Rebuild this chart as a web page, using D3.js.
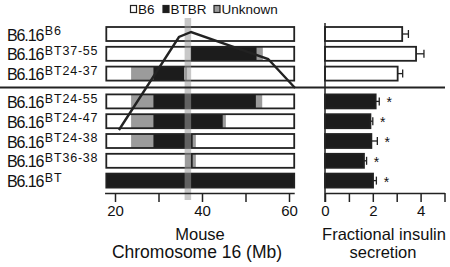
<!DOCTYPE html>
<html><head><meta charset="utf-8">
<script src="https://cdn.jsdelivr.net/npm/d3@7"></script>
<style>
html,body{margin:0;padding:0;background:#fff;}
svg{display:block;font-family:"Liberation Sans",Arial,sans-serif;}
</style></head>
<body>
<svg id="c" width="450" height="267"></svg>
<script>
// ---- data ----
const strains = ["B6","BT37-55","BT24-37","BT24-55","BT24-47","BT24-38","BT36-38","BT"];
const segB6      = [[18,61.2,"W"]];
const segBT3755  = [[18,37.4,"W"],[37.4,52.6,"K"],[52.6,54.0,"G"],[54.0,61.2,"W"]];
const segBT2437  = [[18,23.7,"W"],[23.7,28.8,"G"],[28.8,35.9,"K"],[35.9,36.6,"G"],[36.6,61.2,"W"]];
const segBT2455  = [[18,23.7,"W"],[23.7,28.8,"G"],[28.8,52.4,"K"],[52.4,53.9,"G"],[53.9,61.2,"W"]];
const segBT2447  = [[18,23.7,"W"],[23.7,28.8,"G"],[28.8,44.8,"K"],[44.8,45.5,"G"],[45.5,61.2,"W"]];
const segBT2438  = [[18,23.7,"W"],[23.7,28.8,"G"],[28.8,37.9,"K"],[37.9,38.6,"G"],[38.6,61.2,"W"]];
const segBT3638  = [[18,36.1,"W"],[36.1,37.4,"G"],[37.4,37.9,"K"],[37.9,38.6,"G"],[38.6,61.2,"W"]];
const segBT      = [[18,61.2,"K"]];
const segments = [segB6,segBT3755,segBT2437,segBT2455,segBT2447,segBT2438,segBT3638,segBT];
const insulinMean = [3.23,3.81,3.04,2.12,1.90,1.94,1.63,2.01];
const insulinErr  = [0.26,0.33,0.21,0.15,0.10,0.25,0.11,0.14];
const significant = [false,false,false,true,true,true,true,true];
const lodPos = [20.9,34.7,37.5,55.2,61.4];
const lodVal = [0,9.3,9.8,7.1,4.2];
const peakRegion = [36.0,37.5];
const chrTicks = [20,30,40,50,60];
const chrTickLabels = ["20","","40","","60"];
const insTicks = [0,1,2,3,4,5];
const insTickLabels = ["0","","2","","4",""];
const legendItems = [["B6","W"],["BTBR","K"],["Unknown","G"]];

// ---- drawing ----
const svg = d3.select("#c");
const fillOf = {W:"#ffffff",K:"#1c1c1c",G:"#9b9b9b"};
const dark = "#222";
const x = d3.scaleLinear().domain([20,60]).range([115,289]);
const xi = d3.scaleLinear().domain([0,5]).range([325,444.5]);
const lodY = d3.scaleLinear().domain([0,10]).range([130,30]);
const barH = 14;
const yTop = i => 27 + i*19.8 + (i>=3 ? 8 : 0);

// legend
const lg = svg.append("g");
legendItems.forEach(([name,t],k)=>{
  const pos = [130,162.5,213.5][k];
  lg.append("rect").attr("x",pos+0.5).attr("y",5.5).attr("width",6).attr("height",7)
    .attr("fill",fillOf[t]).attr("stroke",dark).attr("stroke-width",1.2);
  lg.append("text").attr("x",pos+8).attr("y",14).attr("font-size",13.5).attr("fill","#111").text(name);
});

// row labels
strains.forEach((s,i)=>{
  const base = yTop(i)+barH-0.5;
  const t = svg.append("text").attr("x",7).attr("y",base).attr("fill","#111");
  t.append("tspan").attr("font-size",16).attr("letter-spacing",-1.1).text("B6.16");
  t.append("tspan").attr("font-size",12.5).attr("dx",1.5).attr("dy",-5.3).attr("letter-spacing",0.8).text(s);
});

// chromosome bars
strains.forEach((s,i)=>{
  const g = svg.append("g");
  segments[i].forEach(([a,b,t])=>{
    g.append("rect").attr("x",x(a)).attr("y",yTop(i)).attr("width",x(b)-x(a)).attr("height",barH)
      .attr("fill",fillOf[t]);
  });
  g.append("rect").attr("x",x(segments[i][0][0])).attr("y",yTop(i))
    .attr("width",x(segments[i][segments[i].length-1][1])-x(segments[i][0][0])).attr("height",barH)
    .attr("fill","none").attr("stroke",dark).attr("stroke-width",1.8);
});

// highlight band
svg.append("rect").attr("x",x(peakRegion[0])).attr("y",18)
  .attr("width",x(peakRegion[1])-x(peakRegion[0])).attr("height",182)
  .attr("fill","rgb(155,155,155)").attr("opacity",0.55);

// LOD line
svg.append("path").datum(lodPos.map((p,k)=>[p,lodVal[k]]))
  .attr("d",d3.line().x(d=>x(d[0])).y(d=>lodY(d[1])))
  .attr("fill","none").attr("stroke",dark).attr("stroke-width",2.4).attr("stroke-linejoin","miter");

// separator
svg.append("line").attr("x1",0).attr("x2",445).attr("y1",87.5).attr("y2",87.5)
  .attr("stroke",dark).attr("stroke-width",2);

// chromosome axis
const xa = d3.scaleLinear().domain([17.6,61.2]).range([x(17.6),x(61.2)]);
const ga = svg.append("g").attr("transform","translate(0,193)")
  .call(d3.axisBottom(xa).tickValues(chrTicks).tickSize(9).tickSizeOuter(0)
  .tickFormat((d,k)=>chrTickLabels[k]));
ga.selectAll("path,line").attr("stroke",dark).attr("stroke-width",1.5);
ga.selectAll("text").attr("font-size",15).attr("font-family","'Liberation Sans',Arial,sans-serif")
  .attr("fill","#111").attr("dy","0.5em").attr("y",15);
svg.append("text").attr("x",200).attr("y",240).attr("text-anchor","middle").attr("font-size",16.5).attr("fill","#111").text("Mouse");
svg.append("text").attr("x",197).attr("y",258).attr("text-anchor","middle").attr("font-size",17.5).attr("fill","#111").text("Chromosome 16 (Mb)");

// insulin panel
strains.forEach((s,i)=>{
  const yc = yTop(i)+barH/2;
  svg.append("rect").attr("x",xi(0)).attr("y",yTop(i)).attr("width",xi(insulinMean[i])-xi(0)).attr("height",barH)
    .attr("fill",significant[i]?"#1c1c1c":"#fff").attr("stroke",dark).attr("stroke-width",1.8);
  svg.append("line").attr("x1",xi(insulinMean[i])).attr("x2",xi(insulinMean[i]+insulinErr[i]))
    .attr("y1",yc).attr("y2",yc).attr("stroke",dark).attr("stroke-width",1.3);
  svg.append("line").attr("x1",xi(insulinMean[i]+insulinErr[i])).attr("x2",xi(insulinMean[i]+insulinErr[i]))
    .attr("y1",yc-4).attr("y2",yc+4).attr("stroke",dark).attr("stroke-width",1.3);
  if(significant[i]){
    svg.append("text").attr("x",xi(insulinMean[i]+insulinErr[i])+10).attr("y",yc+6)
      .attr("text-anchor","middle").attr("font-size",14).attr("fill","#111").text("*");
  }
});
const gi = svg.append("g").attr("transform","translate(0,193)")
  .call(d3.axisBottom(xi).tickValues(insTicks).tickSize(9).tickSizeOuter(0)
  .tickFormat((d,k)=>insTickLabels[k]));
gi.selectAll("path,line").attr("stroke",dark).attr("stroke-width",1.5);
gi.selectAll("text").attr("font-size",15).attr("font-family","'Liberation Sans',Arial,sans-serif")
  .attr("fill","#111").attr("dy","0.5em").attr("y",15);
svg.append("line").attr("x1",xi(0)).attr("x2",xi(0)).attr("y1",23).attr("y2",202)
  .attr("stroke",dark).attr("stroke-width",1.5);
svg.append("text").attr("x",384).attr("y",240).attr("text-anchor","middle").attr("font-size",16.5).attr("fill","#111").text("Fractional insulin");
svg.append("text").attr("x",383).attr("y",258).attr("text-anchor","middle").attr("font-size",16.5).attr("fill","#111").text("secretion");
</script>
</body></html>
